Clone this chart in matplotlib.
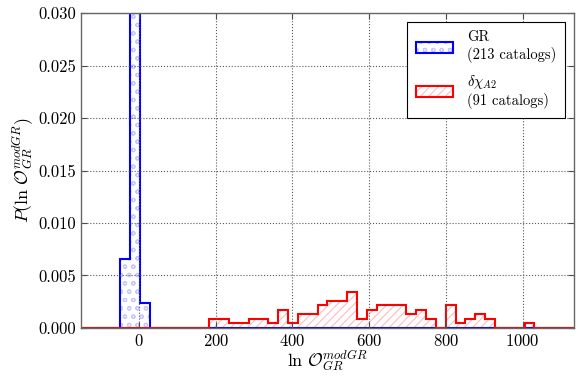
import numpy as np
import matplotlib
matplotlib.use("Agg")
import matplotlib.pyplot as plt
from matplotlib.patches import Patch
from matplotlib.legend_handler import HandlerTuple

plt.rcParams['font.family'] = 'serif'
plt.rcParams['font.serif'] = ['cmr10']
plt.rcParams['mathtext.fontset'] = 'cm'
plt.rcParams['axes.formatter.use_mathtext'] = True
plt.rcParams['hatch.linewidth'] = 0.8

# common binning: 50 bins over the plotted range
bin_lo, bin_hi, n_bins = -151.0, 1133.0, 50

# counts per bin (bin index -> count)
gr_first_bin = 4
gr_counts = [36, 164, 13]
gr_total = 213

mod_first_bin = 13
mod_counts = [2, 2, 1, 1, 2, 2, 1, 4, 1, 3, 3, 5, 6, 6, 8, 2, 4, 5, 5, 5,
              3, 4, 2, 0, 5, 1, 2, 3, 2, 0, 0, 0, 1]
mod_total = 91

edges = np.linspace(bin_lo, bin_hi, n_bins + 1)
width = edges[1] - edges[0]


def density(first, counts, total):
    full = np.zeros(n_bins)
    full[first:first + len(counts)] = counts
    return full / (total * width)


gr_dens = density(gr_first_bin, gr_counts, gr_total)
mod_dens = density(mod_first_bin, mod_counts, mod_total)

gr_hatch_col = '#c4c6ff'
mod_hatch_col = '#ffbcbc'

fig = plt.figure(figsize=(5.82, 3.79), dpi=100)
ax = fig.add_axes([0.139, 0.135, 0.847, 0.83])

# hatched fills
ax.stairs(gr_dens, edges, fill=True, facecolor='none',
          edgecolor=gr_hatch_col, hatch='oo', linewidth=0)
ax.stairs(mod_dens, edges, fill=True, facecolor='none',
          edgecolor=mod_hatch_col, hatch='////', linewidth=0)
# outlines
ax.stairs(gr_dens, edges, color='blue', linewidth=1.5, baseline=0)
ax.stairs(mod_dens, edges, color='red', linewidth=1.5, baseline=0)

ax.set_xlim(bin_lo, bin_hi)
ax.set_ylim(0, 0.030)
ax.set_xticks([0, 200, 400, 600, 800, 1000])
ax.set_yticks(np.arange(0, 0.0301, 0.005))
ax.yaxis.set_major_formatter(plt.FormatStrFormatter('%.3f'))
ax.tick_params(direction='in', top=True, right=True, labelsize=12,
               length=4, color='0.3')
ax.grid(True, linestyle=':', color='0.35', linewidth=0.8)
for s in ax.spines.values():
    s.set_color('0.4')
    s.set_linewidth(1.0)

ax.set_xlabel(r'$\ln\,\mathcal{O}_{GR}^{modGR}$', fontsize=13, labelpad=0)
ax.set_ylabel(r'$P(\ln\,\mathcal{O}_{GR}^{modGR})$', fontsize=13, labelpad=2)

gr_handle = (Patch(facecolor='none', edgecolor=gr_hatch_col, hatch='oo', linewidth=0),
             Patch(facecolor='none', edgecolor='blue', linewidth=1.5))
mod_handle = (Patch(facecolor='none', edgecolor=mod_hatch_col, hatch='////', linewidth=0),
              Patch(facecolor='none', edgecolor='red', linewidth=1.5))
leg = ax.legend([gr_handle, mod_handle],
                ['GR\n(213 catalogs)', '$\\delta\\chi_{A2}$\n(91 catalogs)'],
                handler_map={tuple: HandlerTuple(ndivide=1, pad=0)},
                loc='upper right', fontsize=10.5, fancybox=False,
                framealpha=1, edgecolor='black', handlelength=2.5,
                handleheight=0.8, borderpad=0.6, labelspacing=0.7,
                handletextpad=1.0, borderaxespad=0.6)
leg.get_frame().set_linewidth(0.8)

fig.savefig('out.png', dpi=100)
